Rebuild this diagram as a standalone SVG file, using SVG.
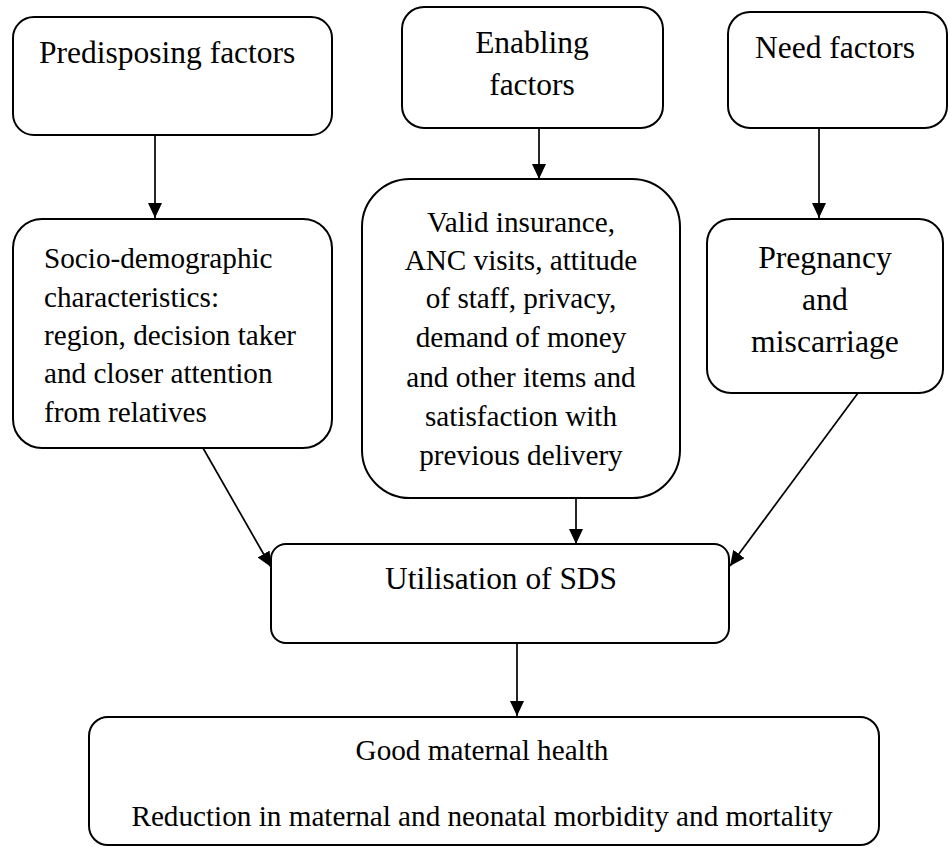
<svg xmlns="http://www.w3.org/2000/svg" width="950" height="847" viewBox="0 0 950 847">
  <style>
    .box { fill: #ffffff; stroke: #000000; stroke-width: 2; }
    .t { font-family: "Liberation Serif", "Times New Roman", serif; fill: #000000; }
    .big { font-size: 31.5px; }
    .med { font-size: 29.2px; }
    .mid { text-anchor: middle; }
    .edge { fill: none; stroke: #000000; stroke-width: 1.7; marker-end: url(#arrow); }
  </style>
  <defs>
    <marker id="arrow" viewBox="0 0 15 14" refX="15" refY="7" markerWidth="15" markerHeight="14" markerUnits="userSpaceOnUse" orient="auto">
      <path d="M0,0 L15,7 L0,14 Z" fill="#000000"/>
    </marker>
  </defs>

  <rect x="0" y="0" width="950" height="847" fill="#ffffff"/>

  <!-- top row: factor groups -->
  <g id="predisposing">
    <rect class="box" x="13" y="17" width="319" height="118" rx="21" ry="21"/>
    <text class="t big" x="39" y="63">Predisposing factors</text>
  </g>
  <g id="enabling">
    <rect class="box" x="402" y="7" width="261" height="121" rx="22" ry="22"/>
    <text class="t big mid" x="532" y="53">Enabling</text>
    <text class="t big mid" x="532" y="95">factors</text>
  </g>
  <g id="need">
    <rect class="box" x="728" y="12" width="219" height="116" rx="22" ry="22"/>
    <text class="t big" x="755" y="58">Need factors</text>
  </g>

  <!-- second row: factor details -->
  <g id="sociodemographic">
    <rect class="box" x="13" y="219" width="319" height="229" rx="29" ry="29"/>
    <text class="t med" x="44" y="268">Socio-demographic</text>
    <text class="t med" x="44" y="307">characteristics:</text>
    <text class="t med" x="44" y="345">region, decision taker</text>
    <text class="t med" x="44" y="383">and closer attention</text>
    <text class="t med" x="44" y="422">from relatives</text>
  </g>
  <g id="enabling-details">
    <rect class="box" x="362" y="179" width="318" height="319" rx="48" ry="48"/>
    <text class="t med mid" x="521" y="232">Valid insurance,</text>
    <text class="t med mid" x="521" y="270">ANC visits, attitude</text>
    <text class="t med mid" x="521" y="308">of staff, privacy,</text>
    <text class="t med mid" x="521" y="347">demand of money</text>
    <text class="t med mid" x="521" y="387">and other items and</text>
    <text class="t med mid" x="521" y="426">satisfaction with</text>
    <text class="t med mid" x="521" y="465">previous delivery</text>
  </g>
  <g id="pregnancy">
    <rect class="box" x="707" y="219" width="236" height="174" rx="24" ry="24"/>
    <text class="t mid" x="825" y="268" font-size="31.7">Pregnancy</text>
    <text class="t mid" x="825" y="310" font-size="31.7">and</text>
    <text class="t mid" x="825" y="352" font-size="31.7">miscarriage</text>
  </g>

  <!-- utilisation and outcome -->
  <g id="utilisation">
    <rect class="box" x="271" y="544" width="458" height="99" rx="15" ry="15"/>
    <text class="t mid" x="501" y="589" font-size="31.4">Utilisation of SDS</text>
  </g>
  <g id="outcome">
    <rect class="box" x="89" y="717" width="790" height="128" rx="19" ry="19"/>
    <text class="t med mid" x="482" y="760">Good maternal health</text>
    <text class="t med mid" x="482" y="826">Reduction in maternal and neonatal morbidity and mortality</text>
  </g>

  <!-- connectors -->
  <g id="connectors">
    <line class="edge" x1="155" y1="135" x2="155" y2="218"/>
    <line class="edge" x1="539" y1="128" x2="539" y2="179"/>
    <line class="edge" x1="819" y1="128" x2="819" y2="218"/>
    <line class="edge" x1="203" y1="448" x2="271" y2="567"/>
    <line class="edge" x1="576" y1="498" x2="576" y2="544"/>
    <line class="edge" x1="858" y1="393" x2="730" y2="566"/>
    <line class="edge" x1="517" y1="643" x2="517" y2="716"/>
  </g>
</svg>
